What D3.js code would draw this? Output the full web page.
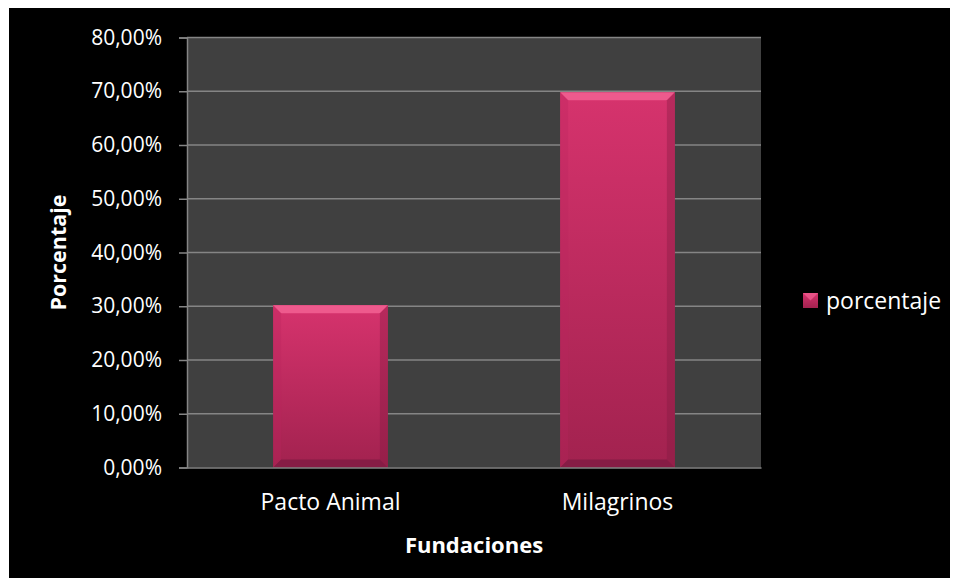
<!DOCTYPE html>
<html>
<head>
<meta charset="utf-8">
<script src="https://cdn.jsdelivr.net/npm/d3@7"></script>
<style>
  body { margin: 0; background: #fff; }
  text { font-family: "Open Sans", "Liberation Sans", sans-serif; }
</style>
</head>
<body>
<svg id="chart"></svg>
<script>
// data
var categories = ["Pacto Animal", "Milagrinos"];
var values = [0.302, 0.698];
var yTicks = [0, 0.1, 0.2, 0.3, 0.4, 0.5, 0.6, 0.7, 0.8];
var seriesName = "porcentaje";

var svgWidth = 958, svgHeight = 587;
var margin = { top: 37.5, right: 197, bottom: 119.5, left: 187 };
var width = svgWidth - margin.left - margin.right;
var height = svgHeight - margin.top - margin.bottom;

var svg = d3.select("#chart")
            .attr("width", svgWidth)
            .attr("height", svgHeight);

// black chart background
svg.append("rect")
   .attr("x", 9).attr("y", 8)
   .attr("width", 941).attr("height", 570)
   .attr("fill", "#000");

var defs = svg.append("defs");
var grad = defs.append("linearGradient")
   .attr("id", "barGrad")
   .attr("x1", 0).attr("y1", 0).attr("x2", 0).attr("y2", 1);
grad.append("stop").attr("offset", "0%").attr("stop-color", "#d6336d");
grad.append("stop").attr("offset", "100%").attr("stop-color", "#a2224f");

var g = svg.append("g")
           .attr("transform", "translate(" + margin.left + "," + margin.top + ")");

var x = d3.scaleBand()
          .domain(categories)
          .range([0, width])
          .paddingInner(0.6)
          .paddingOuter(0.3);

var y = d3.scaleLinear()
          .domain([0, 0.8])
          .range([height, 0]);

// plot area
g.append("rect")
 .attr("width", width).attr("height", height)
 .attr("fill", "#404040");

// gridlines
g.append("g")
 .selectAll("line")
 .data(yTicks.slice(1))
 .enter().append("line")
 .attr("x1", 0).attr("x2", width)
 .attr("y1", function(d) { return y(d); })
 .attr("y2", function(d) { return y(d); })
 .attr("stroke", "#858585")
 .attr("stroke-width", 1.5);

var fmt = function(d) { return d3.format(".2f")(d * 100).replace(".", ",") + "%"; };

var yAxis = g.append("g")
 .call(d3.axisLeft(y).tickValues(yTicks).tickFormat(fmt).tickSize(8).tickPadding(17));
yAxis.select(".domain").attr("stroke", "#858585").attr("stroke-width", 1.5);
yAxis.selectAll(".tick line").attr("stroke", "#858585").attr("stroke-width", 1.5);
yAxis.selectAll("text")
     .attr("fill", "#fff")
     .attr("font-size", "21px")
     .attr("font-family", "'Open Sans', sans-serif");

// bars with bevel
var bev = 8;
var bars = g.selectAll(".bar")
  .data(values)
  .enter().append("g")
  .attr("class", "bar");

bars.append("rect")
  .attr("x", function(d, i) { return x(categories[i]); })
  .attr("y", function(d) { return y(d); })
  .attr("width", x.bandwidth())
  .attr("height", function(d) { return height - y(d); })
  .attr("fill", "url(#barGrad)");

function pts(arr) { return arr.map(function(p) { return p.join(","); }).join(" "); }

// top bevel
bars.append("polygon")
  .attr("points", function(d, i) {
    var x0 = x(categories[i]), x1 = x0 + x.bandwidth(), y0 = y(d);
    return pts([[x0, y0], [x1, y0], [x1 - bev, y0 + bev], [x0 + bev, y0 + bev]]);
  })
  .attr("fill", "#ee5a8d");
// left bevel
bars.append("polygon")
  .attr("points", function(d, i) {
    var x0 = x(categories[i]), y0 = y(d);
    return pts([[x0, y0], [x0 + bev, y0 + bev], [x0 + bev, height - bev], [x0, height]]);
  })
  .attr("fill", "#b8265c").attr("opacity", 0.3);
// right bevel
bars.append("polygon")
  .attr("points", function(d, i) {
    var x1 = x(categories[i]) + x.bandwidth(), y0 = y(d);
    return pts([[x1, y0], [x1 - bev, y0 + bev], [x1 - bev, height - bev], [x1, height]]);
  })
  .attr("fill", "#7e1a40").attr("opacity", 0.35);
// bottom bevel
bars.append("polygon")
  .attr("points", function(d, i) {
    var x0 = x(categories[i]), x1 = x0 + x.bandwidth();
    return pts([[x0, height], [x0 + bev, height - bev], [x1 - bev, height - bev], [x1, height]]);
  })
  .attr("fill", "#861c45");

// x axis
var xAxis = g.append("g")
 .attr("transform", "translate(0," + height + ")")
 .call(d3.axisBottom(x).tickSize(0).tickPadding(26));
xAxis.select(".domain").attr("stroke", "#858585").attr("stroke-width", 1.5);
xAxis.selectAll("text")
     .attr("fill", "#fff")
     .attr("font-size", "23px")
     .attr("font-family", "'Open Sans', sans-serif");

// axis titles
svg.append("text")
   .attr("x", margin.left + width / 2)
   .attr("y", 553)
   .attr("text-anchor", "middle")
   .attr("fill", "#fff")
   .attr("font-size", "22px")
   .attr("font-weight", "bold")
   .text("Fundaciones");

svg.append("text")
   .attr("transform", "translate(66," + (margin.top + height / 2) + ") rotate(-90)")
   .attr("text-anchor", "middle")
   .attr("fill", "#fff")
   .attr("font-size", "21.5px")
   .attr("font-weight", "bold")
   .text("Porcentaje");

// legend
var legend = svg.append("g").attr("transform", "translate(803,293)");
legend.append("rect")
   .attr("width", 15).attr("height", 15)
   .attr("fill", "url(#barGrad)");
legend.append("polygon")
   .attr("points", "0,0 15,0 7.5,7.5")
   .attr("fill", "#ee5a8d").attr("opacity", 0.8);
legend.append("text")
   .attr("x", 23).attr("y", 16)
   .attr("fill", "#fff")
   .attr("font-size", "23px")
   .text(seriesName);
</script>
</body>
</html>
